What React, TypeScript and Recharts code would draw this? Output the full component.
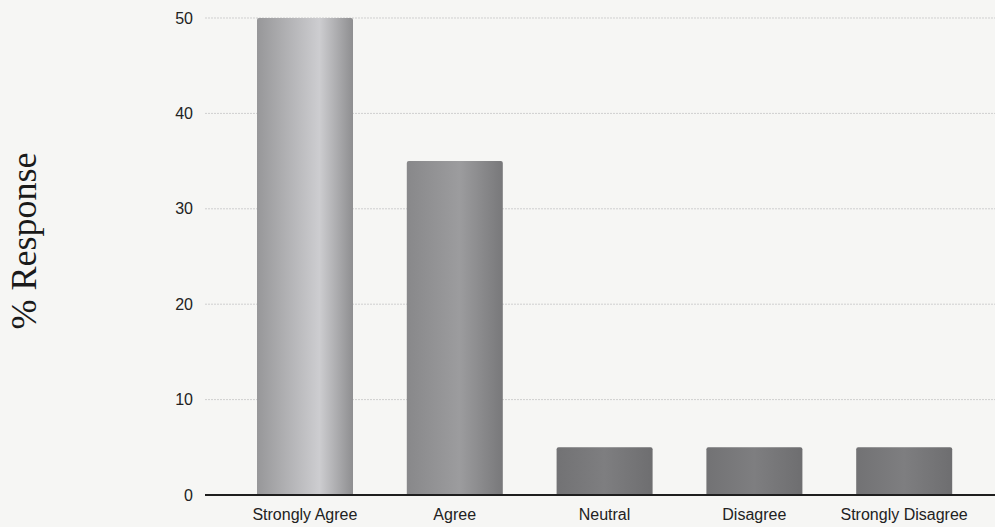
import { BarChart, Bar, XAxis, YAxis, CartesianGrid, Cell, Label } from "recharts";

const categories = ["Strongly Agree", "Agree", "Neutral", "Disagree", "Strongly Disagree"];
const responses = [50, 35, 5, 5, 5];
const yTicks = [0, 10, 20, 30, 40, 50];
const fills = ["url(#gSA)", "url(#gA)", "url(#gN)", "url(#gN)", "url(#gN)"];

const data = categories.map((name, i) => ({ name, value: responses[i] }));

const sans = "Liberation Sans, Arial, sans-serif";

function AxisTitle() {
  return (
    <text
      transform="translate(36, 241) rotate(-90)"
      textAnchor="middle"
      fontSize={36}
      fill="#1a1a1a"
      fontFamily="Liberation Serif, Times New Roman, serif"
    >
      % Response
    </text>
  );
}

export default function App() {
  return (
    <div style={{ position: "absolute", left: 0, top: 0, width: 995, height: 527, background: "#f6f6f4" }}>
      <BarChart width={995} height={527} data={data} margin={{ top: 18, right: 0, bottom: 0, left: 0 }}>
        <defs>
          <linearGradient id="gSA" x1="0" y1="0" x2="1" y2="0">
            <stop offset="0%" stopColor="#979799" />
            <stop offset="65%" stopColor="#cdcdd0" />
            <stop offset="100%" stopColor="#8e8e90" />
          </linearGradient>
          <linearGradient id="gA" x1="0" y1="0" x2="1" y2="0">
            <stop offset="0%" stopColor="#88888a" />
            <stop offset="55%" stopColor="#9c9c9e" />
            <stop offset="100%" stopColor="#78787a" />
          </linearGradient>
          <linearGradient id="gN" x1="0" y1="0" x2="1" y2="0">
            <stop offset="0%" stopColor="#727274" />
            <stop offset="50%" stopColor="#7e7e80" />
            <stop offset="100%" stopColor="#6e6e70" />
          </linearGradient>
        </defs>
        <CartesianGrid vertical={false} stroke="#cfcfcf" strokeDasharray="2 1" />
        <XAxis
          dataKey="name"
          height={32}
          padding={{ left: 25, right: 16 }}
          tickLine={false}
          axisLine={{ stroke: "#1e1e1e", strokeWidth: 2 }}
          tick={{ fontSize: 16, fill: "#222", fontFamily: sans }}
          tickMargin={8}
          interval={0}
        />
        <YAxis
          width={205}
          domain={[0, 50]}
          ticks={yTicks}
          tickLine={false}
          axisLine={false}
          tickMargin={6}
          tick={{ fontSize: 16, fill: "#222", fontFamily: sans }}
        >
          <Label content={<AxisTitle />} />
        </YAxis>
        <Bar dataKey="value" barSize={96} isAnimationActive={false} radius={[2, 2, 0, 0]}>
          {data.map((d, i) => (
            <Cell key={d.name} fill={fills[i]} />
          ))}
        </Bar>
      </BarChart>
    </div>
  );
}
